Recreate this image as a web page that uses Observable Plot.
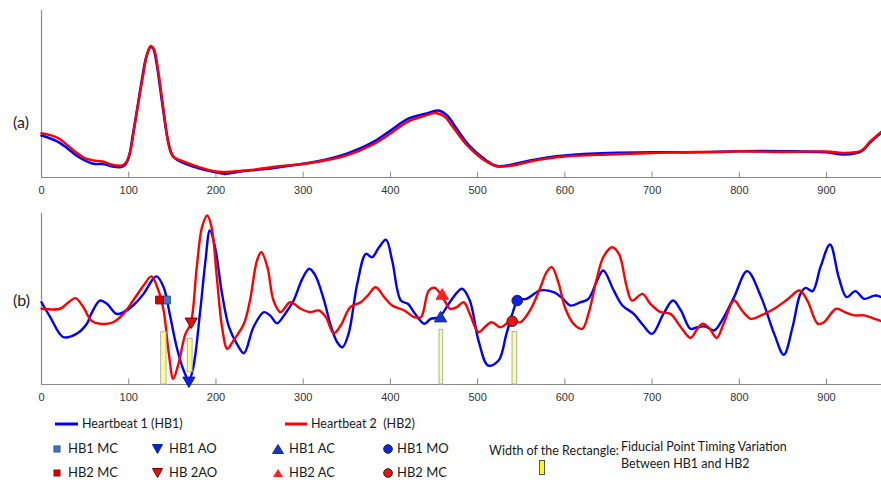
<!DOCTYPE html>
<html><head><meta charset="utf-8">
<script src="https://cdn.jsdelivr.net/npm/d3@7"></script>
<script src="https://cdn.jsdelivr.net/npm/@observablehq/plot@0.6"></script>
<style>
html,body{margin:0;padding:0;background:#fff;}
#wrap{position:relative;width:881px;height:483px;overflow:hidden;font-family:Lato,"Liberation Sans",Arial,sans-serif;color:#222;}
.pnl{position:absolute;left:0;}
.lab{position:absolute;font-size:16px;color:#222;}
.lg{position:absolute;font-size:12.5px;color:#1a1a1a;white-space:nowrap;line-height:14px;}
.sym{position:absolute;}
</style>
</head><body>
<div id="wrap"></div>
<script>
// ---------- Panel (a): raw heartbeat signal ----------
const hb1A_x = [0,10,20,30,40,50,60,70,80,90,95,100,105,110,115,120,125,128,132,138,145,150,160,180,200,210,230,260,280,300,330,350,380,400,420,440,455,465,475,490,510,522,540,560,580,600,650,700,750,800,850,900,920,940,950,963];
const hb1A_y = [25.1,23.4,21.1,17.4,13.2,10.2,8.2,8.1,6.8,6.2,7.2,12.0,26.3,41.9,58.1,71.9,78.1,77.2,68.3,46.1,22.2,13.2,9.3,5.6,3.2,2.2,3.8,5.2,6.8,8.2,11.2,14.2,21.1,28.1,35.1,38.1,40.1,37.1,29.9,19.2,10.2,6.8,7.8,10.2,12.0,13.2,14.6,15.1,15.1,15.7,15.7,15.1,13.8,15.7,21.0,27.1];
const hb2A_x = [0,10,20,30,40,50,60,70,80,92,97,102,107,112,117,121,125,129,134,140,146,152,160,180,200,220,240,270,300,330,350,380,400,420,440,452,462,472,488,508,522,540,560,580,600,650,700,750,780,800,850,900,920,940,950,963];
const hb2A_y = [26.5,25.4,23.4,19.2,15.0,11.4,10.2,9.6,7.8,7.2,9.0,16.2,31.7,47.9,62.9,73.7,78.7,76.6,62.9,40.1,19.2,12.0,10.2,6.3,3.6,3.6,4.5,6.6,8.1,10.8,13.2,19.8,26.3,33.5,37.1,38.6,36.5,29.9,19.2,10.2,6.9,7.2,9.6,11.4,12.6,13.8,14.7,15.3,15.3,15.7,15.3,15.6,14.7,16.2,21.6,27.5];

// ---------- Panel (b): processed signal ----------
const hb1B_x = [0,10,25,40,52,57,67,75,86,94,105,117,128,132,140,147,155,163,169,174,182,188,193,199,207,215,224,232,243,255,262,270,278,289,299,307,314,324,331,339,345,352,362,372,379,387,395,402,412,420,427,439,446,456,468,482,491,501,512,524,533,541,546,556,572,587,598,606,618,627,637,644,656,666,679,690,700,713,724,733,744,752,761,771,780,794,809,825,840,851,861,870,876,884,893,904,914,923,933,943,955,963];
const hb1B_y = [48.1,39.4,27.7,29.6,35.5,41.3,49.1,47.2,41.3,42.3,46.2,53.0,61.8,63.2,56.9,41.3,21.8,8.2,2.3,10.1,43.3,72.5,90.1,80.3,53.0,33.5,23.8,18.3,33.5,42.3,40.4,35.8,40.4,49.1,61.8,67.7,63.7,49.1,35.5,24.7,21.8,29.6,58.9,76.4,74.4,80.3,84.6,72.5,49.1,47.2,42.3,35.5,38.4,39.4,48.1,56.0,49.1,25.7,11.1,14.0,29.6,43.3,49.5,50.1,55.0,54.0,50.1,46.2,48.1,50.1,60.8,66.7,55.0,46.2,41.3,34.5,29.6,41.3,49.1,43.3,32.6,33.5,33.9,31.6,37.4,51.1,66.3,51.1,29.6,17.4,33.5,53.0,56.5,54.6,68.6,81.9,62.7,51.1,54.6,50.1,52.0,51.1];
const hb2B_x = [0,21,31,39,48,57,67,82,94,105,117,126,134,140,146,151,157,165,171,178,184,190,195,201,207,213,220,232,239,247,252,259,266,274,285,297,308,318,326,335,343,354,366,374,383,393,402,416,427,435,444,451,462,468,476,484,491,501,508,516,526,533,539,549,560,572,579,585,593,600,610,620,627,637,644,654,662,671,677,689,698,710,721,733,744,752,758,766,774,782,794,803,813,825,840,856,869,878,890,897,911,921,932,943,955,963];
const hb2B_y = [44.3,44.3,48.1,50.5,45.2,37.4,35.5,36.4,41.3,49.1,57.9,63.2,55.0,43.3,18.0,3.3,12.1,29.6,35.5,68.6,92.0,98.8,92.0,62.7,33.5,20.9,25.7,35.5,49.1,72.5,77.4,68.6,49.1,42.3,48.1,44.3,42.3,43.3,39.4,30.0,34.5,45.2,48.1,52.0,56.9,51.1,46.2,43.3,39.4,39.4,55.0,56.5,49.1,44.3,45.2,48.1,41.3,30.6,33.5,36.4,33.5,35.5,37.4,36.4,43.3,56.9,65.7,68.6,58.9,45.2,35.5,32.6,41.3,62.7,74.4,80.3,76.4,56.9,49.1,53.0,47.2,42.3,41.3,33.5,27.3,32.6,35.5,32.6,27.3,35.5,49.1,43.3,38.4,40.4,44.3,50.1,55.0,49.1,35.5,36.4,44.3,42.3,40.4,40.4,38.4,37.0];

// Fiducial points
const fidNames = ["HB1 MC","HB2 MC","HB1 AO","HB 2AO","HB1 AC","HB2 AC","HB1 MO","HB2 MC"];
const fidX = [143.3,135.3,169,171.6,457.5,459.4,545.4,539.6];
const fidY = [49.4,49.4,2.3,36.8,38.7,51.9,49.1,37.0];
const fidSymbol = ["square","square","triangle","triangle","triangle","triangle","circle","circle"];
const fidRotate = [0,0,180,180,0,0,0,0];
const fidFill = ["#4472c4","#e00000","#0a1fe0","#e01010","#1436c8","#ff2020","#1020f0","#f01010"];
const fidStroke = ["#2f528f","#8a1010","#1020a0","#6a0000","#203080","#ff2020","#222","#222"];
const fidR = [4.4,4.4,4.5,4.5,4.6,4.6,5.3,5.3];

// Timing-variation rectangles
const rectX1 = [137.2,167.8,456.3,540.0];
const rectX2 = [143.3,173.2,460.5,545.4];
const rectY1 = [0,7.2,0,0];
const rectY2 = [30.6,26.7,32.0,30.6];

const xTicks = [0,100,200,300,400,500,600,700,800,900];
const xDomain = [0,963];

const zip = (xs, ys) => xs.map((x,i)=>({x, y: ys[i]}));
const fid = fidNames.map((n,i)=>({name:n,x:fidX[i],y:fidY[i],symbol:fidSymbol[i],rotate:fidRotate[i],fill:fidFill[i],stroke:fidStroke[i],r:fidR[i]}));
const rects = rectX1.map((x1,i)=>({x1, x2: rectX2[i], y1: rectY1[i], y2: rectY2[i]}));

function frame() {
  return [
    Plot.ruleY([0], {stroke:"#8a8a8a", strokeWidth:1.2}),
    Plot.ruleX([0], {stroke:"#8a8a8a", strokeWidth:1.2}),
    Plot.ruleX(xTicks.slice(1), {y1:0, y2:3.2, stroke:"#8a8a8a", strokeWidth:1})
  ];
}

const wrap = document.getElementById("wrap");
const baseStyle = {fontFamily: "'Liberation Sans', Arial, sans-serif", fontSize: "11px", color:"#333", background:"transparent"};

const pa = Plot.plot({
  width: 881, height: 200,
  marginTop: 10, marginBottom: 23, marginLeft: 41, marginRight: 0,
  style: baseStyle,
  x: {domain: xDomain, ticks: xTicks, tickSize: 0, tickPadding: 9, tickFormat: d=>String(d), label: null},
  y: {domain: [0,100], axis: null},
  marks: [
    ...frame(),
    Plot.line(zip(hb1A_x, hb1A_y), {x:"x", y:"y", stroke:"#0000ff", strokeWidth:2.6, curve:"catmull-rom"}),
    Plot.line(zip(hb2A_x, hb2A_y), {x:"x", y:"y", stroke:"#ff0000", strokeWidth:2.4, curve:"catmull-rom"})
  ]
});
pa.classList.add("pnl"); pa.style.top = "0px";
wrap.appendChild(pa);

const pb = Plot.plot({
  width: 881, height: 208,
  marginTop: 13, marginBottom: 24, marginLeft: 41, marginRight: 0,
  style: baseStyle,
  x: {domain: xDomain, ticks: xTicks, tickSize: 0, tickPadding: 9, tickFormat: d=>String(d), label: null},
  y: {domain: [0,100], axis: null},
  r: {type: "identity"},
  marks: [
    ...frame(),
    Plot.line(zip(hb1B_x, hb1B_y), {x:"x", y:"y", stroke:"#0000ff", strokeWidth:2.4, curve:"catmull-rom"}),
    Plot.line(zip(hb2B_x, hb2B_y), {x:"x", y:"y", stroke:"#ff0000", strokeWidth:2.4, curve:"catmull-rom"}),
    Plot.rect(rects, {x1:"x1", x2:"x2", y1:"y1", y2:"y2", fill:"#ffff8c", stroke:"#a8b0c0", strokeWidth:1}),
    Plot.dot(fid, {x:"x", y:"y", symbol:"symbol", rotate:"rotate", fill:"fill", stroke:"stroke", r:"r", strokeWidth:1})
  ]
});
pb.classList.add("pnl"); pb.style.top = "200px";
wrap.appendChild(pb);

function addDiv(cls, text, left, top, extra) {
  const d = document.createElement("div");
  d.className = cls; d.textContent = text;
  d.style.left = left+"px"; d.style.top = top+"px";
  if (extra) Object.assign(d.style, extra);
  wrap.appendChild(d); return d;
}
addDiv("lab","(a)",13,112);
addDiv("lab","(b)",13,290);

// ---------- Legend ----------
function sym(svgInner, left, top, w, h) {
  const s = document.createElementNS("http://www.w3.org/2000/svg","svg");
  s.setAttribute("width", w); s.setAttribute("height", h);
  s.setAttribute("class","sym");
  s.style.left = left+"px"; s.style.top = top+"px";
  s.innerHTML = svgInner;
  wrap.appendChild(s);
}
sym('<line x1="0" y1="3" x2="23" y2="3" stroke="#0000ff" stroke-width="3"/>', 55, 421, 23, 6);
addDiv("lg","Heartbeat 1 (HB1)",82,417);
sym('<line x1="0" y1="3" x2="22" y2="3" stroke="#ff0000" stroke-width="3"/>', 285, 421, 22, 6);
addDiv("lg","Heartbeat 2  (HB2)",311,417, {whiteSpace:"pre"});

const legendRows = [
  {y:449, items:[
    {svg:'<rect x="1" y="1" width="6" height="6" fill="#4472c4" stroke="#2f528f"/>', x:53, w:8, h:8, label:"HB1 MC", lx:68},
    {svg:'<path d="M0.5,0.5 L10.5,0.5 L5.5,9.5 Z" fill="#0a1fe0" stroke="#1020a0"/>', x:152, w:11, h:10, label:"HB1 AO", lx:169},
    {svg:'<path d="M0.5,9.5 L11.5,9.5 L6,0.5 Z" fill="#1436c8" stroke="#203080"/>', x:272, w:12, h:10, label:"HB1 AC", lx:289},
    {svg:'<circle cx="5" cy="5" r="4.3" fill="#1020f0" stroke="#222"/>', x:383, w:10, h:10, label:"HB1 MO", lx:397}
  ]},
  {y:473, items:[
    {svg:'<rect x="1" y="1" width="6" height="6" fill="#e00000" stroke="#8a1010"/>', x:53, w:8, h:8, label:"HB2 MC", lx:68},
    {svg:'<path d="M0.5,0.5 L10.5,0.5 L5.5,9.5 Z" fill="#e01010" stroke="#6a0000"/>', x:152, w:11, h:10, label:"HB 2AO", lx:169},
    {svg:'<path d="M1,9 L11,9 L6,1 Z" fill="#ff2020"/>', x:272, w:12, h:10, label:"HB2 AC", lx:289},
    {svg:'<circle cx="5" cy="5" r="4.3" fill="#f01010" stroke="#222"/>', x:383, w:10, h:10, label:"HB2 MC", lx:397}
  ]}
];
legendRows.forEach(row => row.items.forEach(it => {
  sym(it.svg, it.x, row.y - it.h/2, it.w, it.h);
  addDiv("lg", it.label, it.lx, row.y - 8, {fontSize:"13px"});
}));

addDiv("lg","Width of the Rectangle:",489,444);
sym('<rect x="0.5" y="0.5" width="5" height="14" fill="#ffff00" stroke="#555"/>', 539, 460, 6, 15);
addDiv("lg","Fiducial Point Timing Variation",621,440);
addDiv("lg","Between HB1 and HB2",621,457);
</script>
</body></html>
